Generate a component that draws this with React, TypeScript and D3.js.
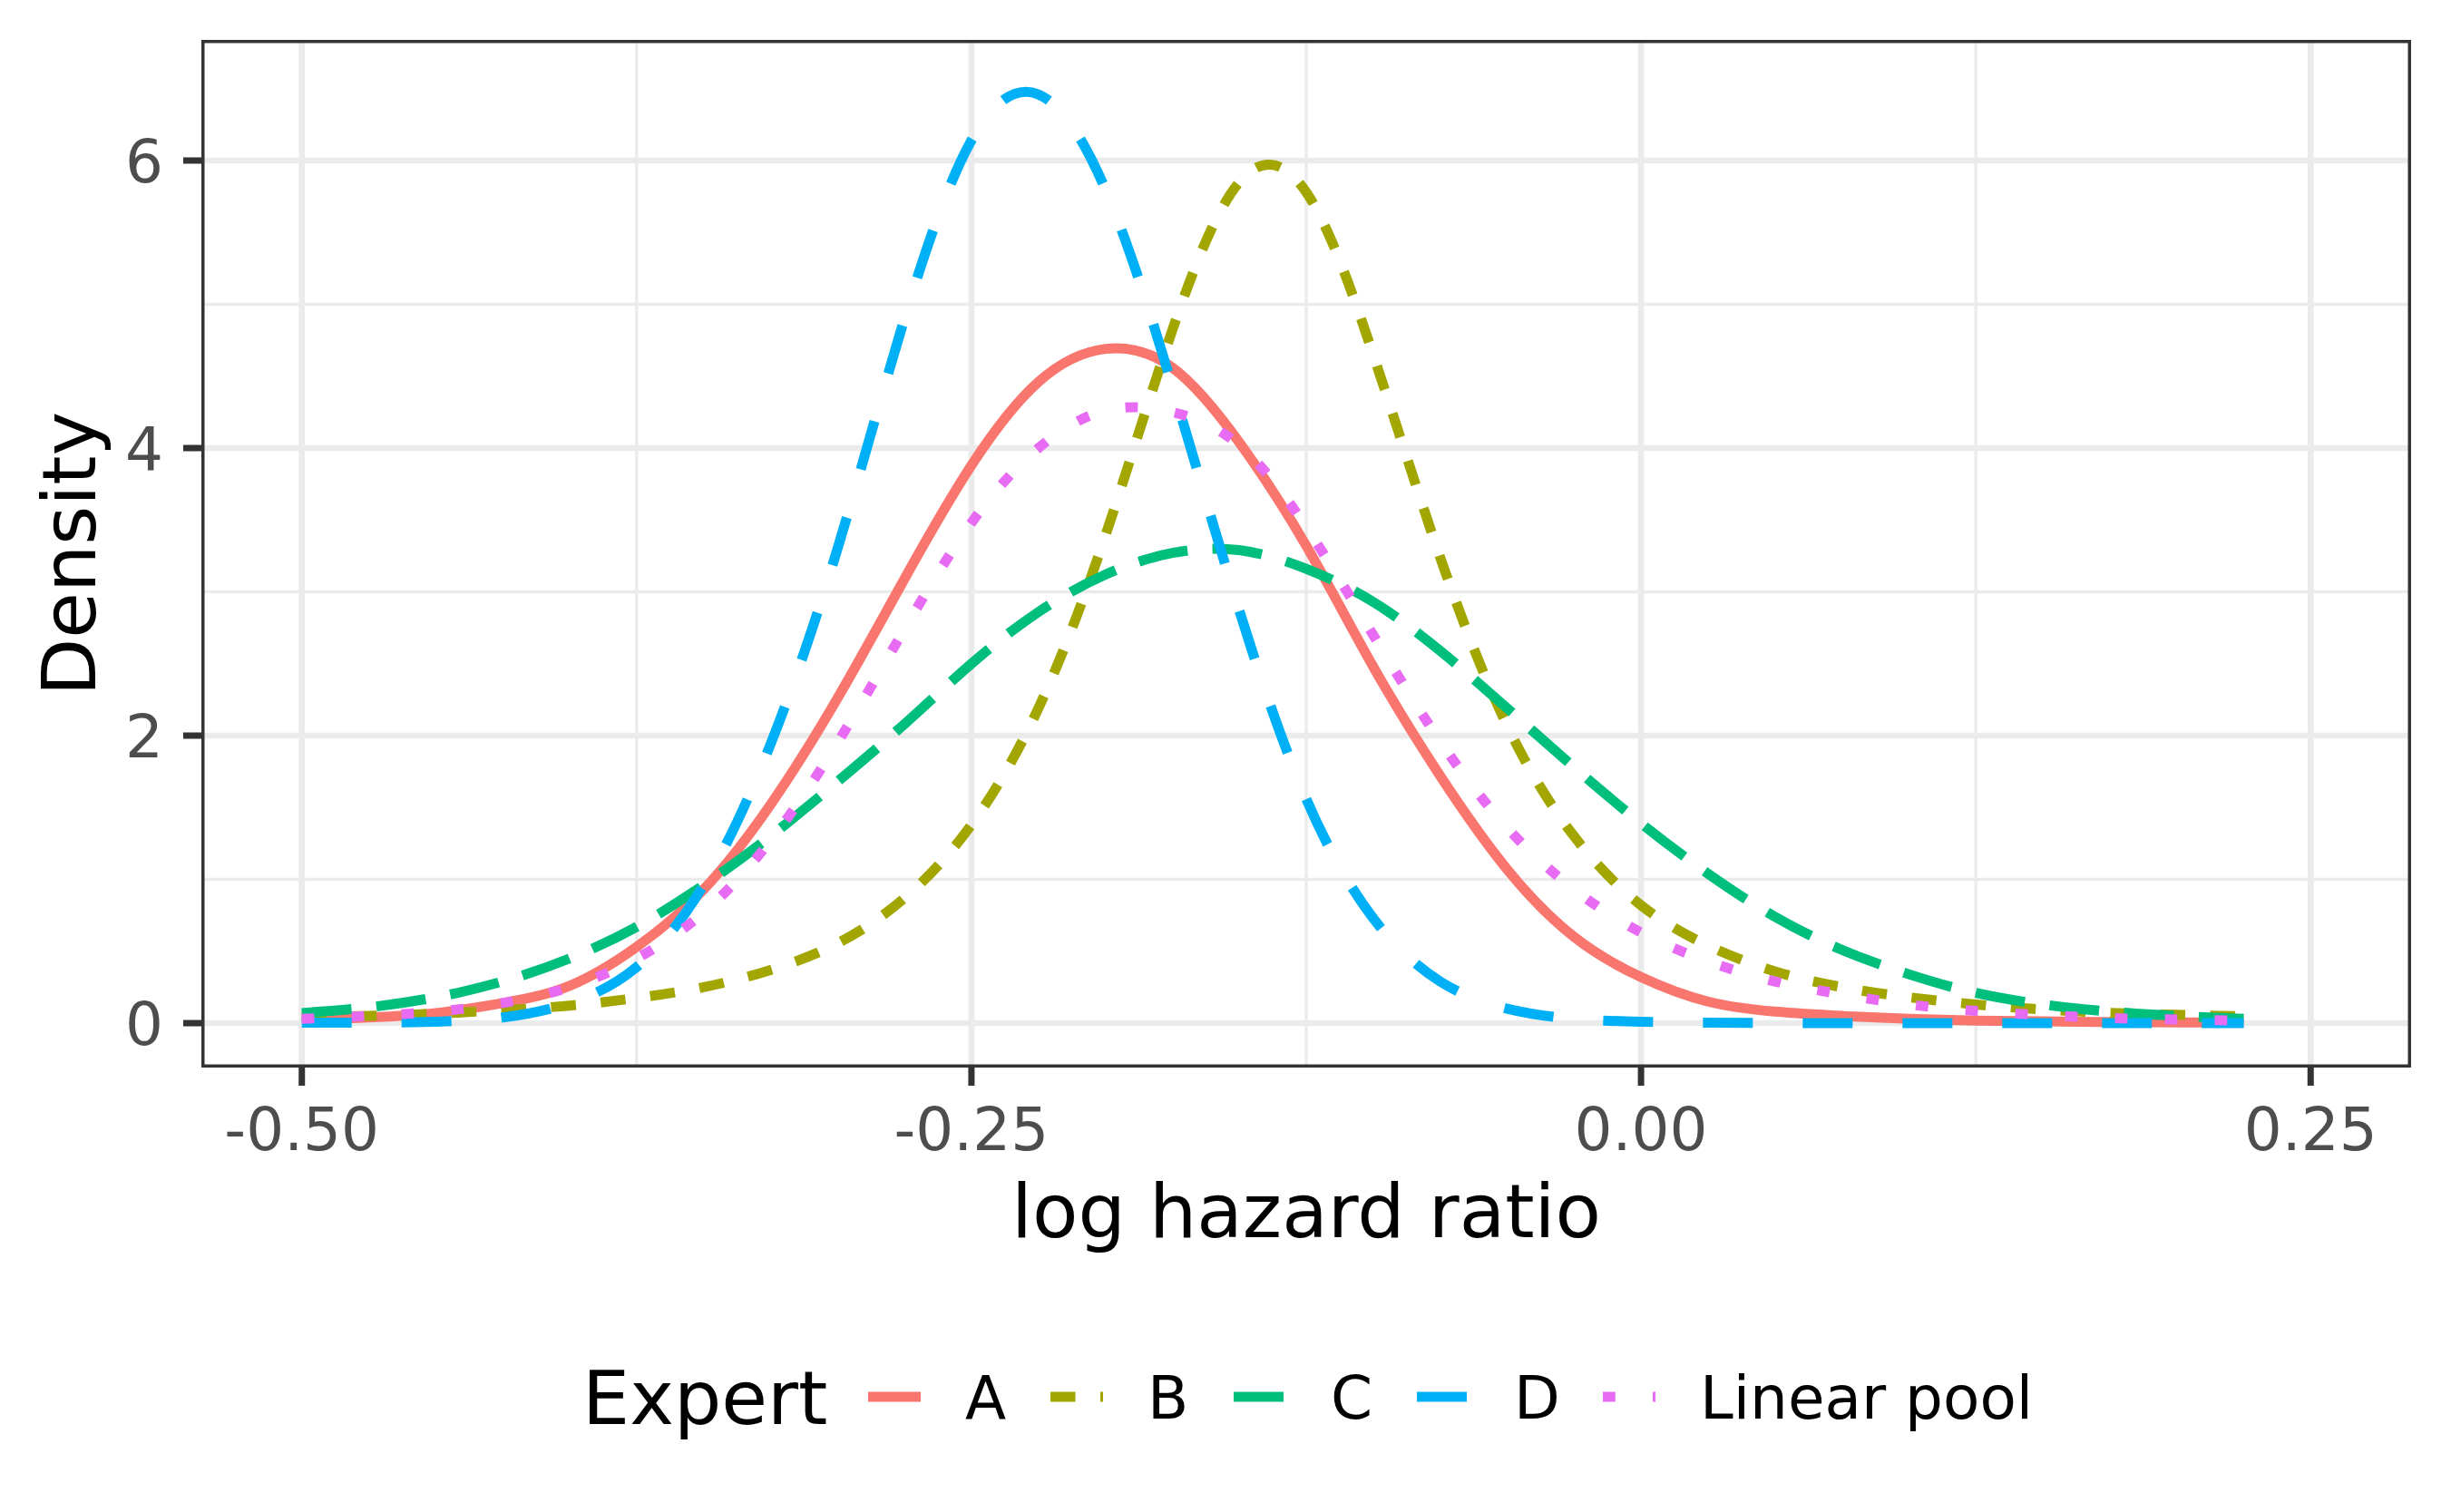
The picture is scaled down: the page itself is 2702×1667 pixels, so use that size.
import * as d3 from "d3";

const WIDTH = 2702;
const HEIGHT = 1667;
const PANEL = { left: 222, right: 2658, top: 44, bottom: 1177 };
const FONT = "'DejaVu Sans', sans-serif";

// log hazard ratio grid the densities were read at
const logHR = [
  -0.5, -0.475, -0.45, -0.425, -0.4, -0.375, -0.35, -0.325, -0.3, -0.275,
  -0.25, -0.225, -0.2, -0.175, -0.15, -0.125, -0.1, -0.075, -0.05, -0.025,
  0, 0.025, 0.05, 0.075, 0.1, 0.125, 0.15, 0.175, 0.2, 0.225,
];

const densityA = [
  0.02, 0.04, 0.07, 0.14, 0.26, 0.53, 0.93, 1.52, 2.26, 3.09,
  3.88, 4.46, 4.69, 4.56, 4.04, 3.32, 2.48, 1.72, 1.07, 0.6,
  0.32, 0.15, 0.08, 0.05, 0.03, 0.018, 0.012, 0.008, 0.005, 0.003,
];
const densityB = [
  0.038, 0.05, 0.066, 0.09, 0.122, 0.175, 0.25, 0.37, 0.555, 0.87,
  1.38, 2.19, 3.39, 4.82, 5.85, 5.78, 4.65, 3.24, 2.07, 1.3,
  0.82, 0.54, 0.36, 0.25, 0.18, 0.13, 0.095, 0.072, 0.058, 0.048,
];
const densityC = [
  0.07, 0.11, 0.18, 0.29, 0.45, 0.67, 0.96, 1.3, 1.68, 2.08,
  2.5, 2.86, 3.12, 3.27, 3.29, 3.16, 2.93, 2.59, 2.19, 1.78,
  1.39, 1.04, 0.74, 0.51, 0.34, 0.21, 0.13, 0.08, 0.05, 0.03,
];
const densityD = [
  0.003, 0.003, 0.01, 0.04, 0.14, 0.39, 0.96, 1.94, 3.3, 4.9,
  6.14, 6.46, 5.8, 4.43, 2.87, 1.56, 0.73, 0.29, 0.1, 0.03,
  0.01, 0.003, 0.001, 0, 0, 0, 0, 0, 0, 0,
];
const densityPool = [
  0.03, 0.05, 0.08, 0.14, 0.25, 0.45, 0.77, 1.27, 1.95, 2.74,
  3.48, 4.0, 4.26, 4.25, 4.02, 3.45, 2.7, 1.96, 1.36, 0.93,
  0.63, 0.43, 0.29, 0.2, 0.13, 0.085, 0.056, 0.036, 0.025, 0.017,
];

const experts = ["A", "B", "C", "D", "Linear pool"];
const xTicks = [-0.5, -0.25, 0, 0.25];
const xTickLabels = ["-0.50", "-0.25", "0.00", "0.25"];
const xMinor = [-0.375, -0.125, 0.125];
const yTicks = [0, 2, 4, 6];
const yTickLabels = ["0", "2", "4", "6"];
const yMinor = [1, 3, 5];

// ggplot hue palette and default linetype sequence
const COLORS = ["#F8766D", "#A3A500", "#00BF7D", "#00B0F6", "#E76BF3"];
const DASH_UNIT = 13.75;
const DASHES = [null, [2, 2], [4, 2], [4, 4], [1, 3]];
const LINE_W = 11;

const LEGEND_KEY_X = [957, 1158, 1360, 1562, 1767];
const LEGEND_Y = 1540;

function dashArray(i: number) {
  const d = DASHES[i];
  return d ? d.map((v) => v * DASH_UNIT).join(",") : undefined;
}

export default function App() {
  const x = d3.scaleLinear().domain([-0.5375, 0.2875]).range([PANEL.left, PANEL.right]);
  const y = d3.scaleLinear().domain([-0.309, 6.839]).range([PANEL.bottom, PANEL.top]);

  const series = [densityA, densityB, densityC, densityD, densityPool];

  const line = d3
    .line<number>()
    .x((_, i) => x(logHR[i]))
    .y((d) => y(d))
    .curve(d3.curveNatural);

  const pw = PANEL.right - PANEL.left;
  const ph = PANEL.bottom - PANEL.top;

  return (
    <div style={{ position: "absolute", left: 0, top: 0 }}>
      <svg width={WIDTH} height={HEIGHT} style={{ display: "block", background: "#fff" }}>
        <defs>
          <clipPath id="panel-clip">
            <rect x={PANEL.left} y={PANEL.top} width={pw} height={ph} />
          </clipPath>
        </defs>
        <rect width={WIDTH} height={HEIGHT} fill="#fff" />

        <g clipPath="url(#panel-clip)">
          {xMinor.map((v) => (
            <line key={"xm" + v} x1={x(v)} x2={x(v)} y1={PANEL.top} y2={PANEL.bottom} stroke="#EBEBEB" strokeWidth={3.35} />
          ))}
          {yMinor.map((v) => (
            <line key={"ym" + v} x1={PANEL.left} x2={PANEL.right} y1={y(v)} y2={y(v)} stroke="#EBEBEB" strokeWidth={3.35} />
          ))}
          {xTicks.map((v) => (
            <line key={"xM" + v} x1={x(v)} x2={x(v)} y1={PANEL.top} y2={PANEL.bottom} stroke="#EBEBEB" strokeWidth={6.7} />
          ))}
          {yTicks.map((v) => (
            <line key={"yM" + v} x1={PANEL.left} x2={PANEL.right} y1={y(v)} y2={y(v)} stroke="#EBEBEB" strokeWidth={6.7} />
          ))}

          {series.map((s, i) => (
            <path
              key={experts[i]}
              d={line(s) || ""}
              fill="none"
              stroke={COLORS[i]}
              strokeWidth={LINE_W}
              strokeDasharray={dashArray(i)}
              strokeLinecap="butt"
              strokeLinejoin="round"
            />
          ))}
        </g>

        <rect
          x={PANEL.left + 1.75}
          y={PANEL.top + 1.75}
          width={pw - 3.5}
          height={ph - 3.5}
          fill="none"
          stroke="#333333"
          strokeWidth={3.5}
        />

        {/* y axis */}
        {yTicks.map((v, i) => (
          <g key={"yt" + v}>
            <line x1={PANEL.left - 20} x2={PANEL.left} y1={y(v)} y2={y(v)} stroke="#333333" strokeWidth={7} />
            <text x={180} y={y(v)} dy="0.36em" textAnchor="end" fontFamily={FONT} fontSize={66} fill="#4D4D4D">
              {yTickLabels[i]}
            </text>
          </g>
        ))}

        {/* x axis */}
        {xTicks.map((v, i) => (
          <g key={"xt" + v}>
            <line x1={x(v)} x2={x(v)} y1={PANEL.bottom} y2={PANEL.bottom + 20} stroke="#333333" strokeWidth={7} />
            <text x={x(v)} y={1268} textAnchor="middle" fontFamily={FONT} fontSize={66} fill="#4D4D4D">
              {xTickLabels[i]}
            </text>
          </g>
        ))}

        <text x={(PANEL.left + PANEL.right) / 2} y={1364} textAnchor="middle" fontFamily={FONT} fontSize={82.5} fill="#000">
          log hazard ratio
        </text>
        <text
          transform={`translate(105, ${(PANEL.top + PANEL.bottom) / 2}) rotate(-90)`}
          textAnchor="middle"
          fontFamily={FONT}
          fontSize={82.5}
          fill="#000"
        >
          Density
        </text>

        {/* legend */}
        <text x={642} y={LEGEND_Y} dy="0.36em" fontFamily={FONT} fontSize={82.5} fill="#000">
          Expert
        </text>
        {experts.map((name, i) => (
          <g key={"lg" + name}>
            <line
              x1={LEGEND_KEY_X[i]}
              x2={LEGEND_KEY_X[i] + 58}
              y1={LEGEND_Y}
              y2={LEGEND_Y}
              stroke={COLORS[i]}
              strokeWidth={LINE_W}
              strokeDasharray={dashArray(i)}
              strokeLinecap="butt"
            />
            <text x={LEGEND_KEY_X[i] + 107} y={LEGEND_Y} dy="0.36em" fontFamily={FONT} fontSize={66} fill="#000">
              {name}
            </text>
          </g>
        ))}
      </svg>
    </div>
  );
}
